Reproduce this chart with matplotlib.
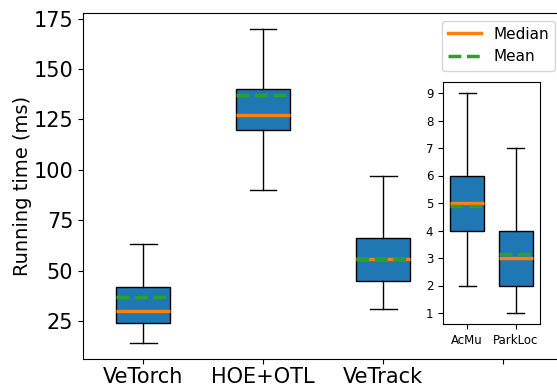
import matplotlib
matplotlib.use("Agg")
import matplotlib.pyplot as plt
from matplotlib.lines import Line2D

# Main boxplot statistics (ms)
metodos = ["VeTorch", "HOE+OTL", "VeTrack"]
bigote_bajo = [14, 90, 31]
cuartil_1 = [24, 120, 45]
mediana = [30, 127, 56]
media = [37, 137, 56]
cuartil_3 = [42, 140, 66]
bigote_alto = [63, 170, 97]

# Inset boxplot statistics
metodos_inset = ["AcMu", "ParkLoc"]
bigote_bajo_inset = [2, 1]
cuartil_1_inset = [4, 2]
mediana_inset = [5, 3]
media_inset = [4.9, 3.15]
cuartil_3_inset = [6, 4]
bigote_alto_inset = [9, 7]


def construir_stats(etiquetas, wl, q1, med, mean, q3, wh):
    return [
        dict(label=e, whislo=a, q1=b, med=c, mean=d, q3=f, whishi=g, fliers=[])
        for e, a, b, c, d, f, g in zip(etiquetas, wl, q1, med, mean, q3, wh)
    ]


estilo = dict(
    patch_artist=True,
    showmeans=True,
    meanline=True,
    boxprops=dict(facecolor="#1f77b4", edgecolor="black"),
    medianprops=dict(color="#ff7f0e", linewidth=2.5),
    meanprops=dict(color="#2ca02c", linestyle="--", linewidth=2.5),
)

fig = plt.figure(figsize=(5.57, 3.85), dpi=100)
ax = fig.add_axes([83 / 557, 26 / 385, 480 / 557, 346 / 385])

stats = construir_stats(metodos, bigote_bajo, cuartil_1, mediana, media, cuartil_3, bigote_alto)
ax.bxp(stats, positions=[1, 2, 3], widths=0.45, **estilo)
ax.set_xlim(0.5, 4.5)
ax.set_xticks([1, 2, 3, 4])
ax.set_xticklabels(metodos + [""], fontsize=15)
ax.tick_params(axis="x", pad=2)
ax.tick_params(axis="y", labelsize=15)
ax.set_yticks([25, 50, 75, 100, 125, 150, 175])
ax.set_ylabel("Running time (ms)", fontsize=14, labelpad=1)

handles = [
    Line2D([], [], color="#ff7f0e", linewidth=2.5),
    Line2D([], [], color="#2ca02c", linestyle="--", linewidth=2.5),
]
ax.legend(handles, ["Median", "Mean"], loc="upper right", fontsize=11,
          handlelength=2.2)

# Inset
axi = fig.add_axes([443 / 557, 61 / 385, 97 / 557, 242 / 385])
stats_inset = construir_stats(
    metodos_inset, bigote_bajo_inset, cuartil_1_inset, mediana_inset,
    media_inset, cuartil_3_inset, bigote_alto_inset,
)
axi.bxp(stats_inset, positions=[1, 2], widths=0.7, **estilo)
axi.set_xlim(0.5, 2.5)
axi.set_yticks(range(1, 10))
axi.tick_params(labelsize=8.5)

fig.savefig("out.png", dpi=100)
